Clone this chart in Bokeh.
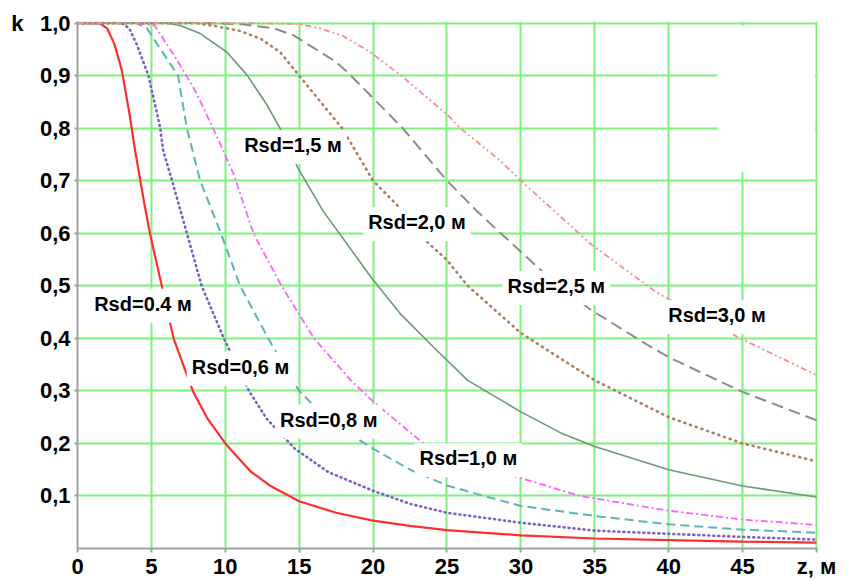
from bokeh.plotting import figure
from bokeh.models import FixedTicker, Label, BoxAnnotation, Range1d, LinearAxis
from bokeh.embed import file_html
from bokeh.resources import INLINE

# ---------------- data ----------------
z_r04 = [0, 1, 1.5, 2, 2.5, 3, 3.5, 3.9, 4.5, 4.9, 5.7, 6.5, 7.8, 8.8, 10, 11.7, 13, 15, 17.5, 20, 22.5, 25, 30, 35, 40, 45, 50]
k_r04 = [1, 1, 1.0, 0.99, 0.96, 0.91, 0.83, 0.757, 0.66, 0.6, 0.5, 0.4, 0.3, 0.247, 0.2, 0.147, 0.12, 0.09, 0.068, 0.053, 0.043, 0.035, 0.025, 0.019, 0.016, 0.013, 0.011]

z_r06 = [0, 2, 3, 3.5, 4, 4.8, 5.6, 5.8, 6.4, 7.4, 8.4, 9.9, 11.6, 12.8, 14.7, 17, 20, 22.5, 25, 30, 35, 40, 45, 50]
k_r06 = [1, 1, 1, 0.99, 0.96, 0.9, 0.8, 0.757, 0.7, 0.6, 0.5, 0.4, 0.3, 0.247, 0.19, 0.145, 0.11, 0.085, 0.068, 0.049, 0.034, 0.028, 0.022, 0.017]

z_r08 = [0, 4, 4.7, 5.4, 6.1, 6.8, 7.4, 8.3, 9.7, 11.0, 12.9, 15.0, 16.4, 18, 20, 22.5, 25, 27.5, 30, 35, 40, 45, 50]
k_r08 = [1, 1, 0.99, 0.96, 0.93, 0.9, 0.8, 0.7, 0.6, 0.5, 0.4, 0.3, 0.26, 0.225, 0.19, 0.15, 0.12, 0.1, 0.081, 0.062, 0.046, 0.036, 0.03]

z_r10 = [0, 4, 5.2, 6.5, 7.8, 8.5, 9.5, 10.6, 11.9, 13.8, 16.0, 18.5, 20, 23.4, 26.5, 30, 34, 40, 45, 50]
k_r10 = [1, 1, 0.996, 0.94, 0.88, 0.84, 0.78, 0.71, 0.6, 0.5, 0.4, 0.32, 0.28, 0.2, 0.16, 0.134, 0.1, 0.072, 0.055, 0.045]

z_r15 = [0, 6, 7, 8.3, 10.1, 11.5, 12.8, 13.7, 14.9, 16.6, 19.9, 21.9, 24.1, 26.4, 30, 32.7, 35, 40, 45, 50]
k_r15 = [1, 1, 0.995, 0.98, 0.945, 0.9, 0.845, 0.8, 0.725, 0.643, 0.515, 0.445, 0.383, 0.32, 0.26, 0.22, 0.194, 0.15, 0.119, 0.098]

z_r20 = [0, 8, 9.2, 11, 12.4, 13.7, 15, 17.9, 20, 22, 23.4, 25, 26.4, 30, 35, 40, 45, 50]
k_r20 = [1, 1, 0.995, 0.985, 0.97, 0.945, 0.9, 0.8, 0.7, 0.643, 0.59, 0.549, 0.5, 0.41, 0.32, 0.25, 0.2, 0.166]

z_r25 = [0, 9, 11, 13.3, 14.6, 17.5, 18.5, 22, 25, 27, 28.4, 31.5, 34.7, 38.3, 40, 45, 50]
k_r25 = [1, 1, 0.998, 0.99, 0.977, 0.926, 0.9, 0.8, 0.7, 0.643, 0.606, 0.526, 0.455, 0.392, 0.364, 0.298, 0.244]

z_r30 = [0, 12, 15, 16.4, 18, 19.8, 21.9, 25, 25.9, 28.6, 30, 34.7, 39.2, 44.7, 50]
k_r30 = [1, 1, 0.998, 0.99, 0.975, 0.945, 0.9, 0.826, 0.8, 0.738, 0.7, 0.58, 0.487, 0.402, 0.33]

series_names = ["Rsd=0.4 м", "Rsd=0,6 м", "Rsd=0,8 м", "Rsd=1,0 м",
                "Rsd=1,5 м", "Rsd=2,0 м", "Rsd=2,5 м", "Rsd=3,0 м"]

x_ticks = [0, 5, 10, 15, 20, 25, 30, 35, 40, 45, 50]
x_tick_labels = ["0", "5", "10", "15", "20", "25", "30", "35", "40", "45", "z, м"]
y_ticks = [0.1, 0.2, 0.3, 0.4, 0.5, 0.6, 0.7, 0.8, 0.9, 1.0]
y_tick_labels = ["0,1", "0,2", "0,3", "0,4", "0,5", "0,6", "0,7", "0,8", "0,9", "1,0"]
y_axis_title = "k"

# ---------------- styles ----------------
FONT = "Liberation Sans"
GRID = "#7ef07e"
AXIS = "#a0a0a0"
TICK_FONT = "22px"

styles = [
    dict(color="#ff2e2e", width=2.2, dash="solid", cap="butt"),
    dict(color="#7f5fc6", width=2.6, dash="1 4", cap="round"),
    dict(color="#5fb3b3", width=2.0, dash="9 5", cap="butt"),
    dict(color="#ff60ff", width=1.8, dash="7 3 2 3", cap="butt"),
    dict(color="#6c9a72", width=1.6, dash="solid", cap="butt"),
    dict(color="#b07e5c", width=2.6, dash="1 5", cap="round"),
    dict(color="#8c8c8c", width=2.0, dash="12 6", cap="butt"),
    dict(color="#ff8a8a", width=1.8, dash="6 3 2 3 2 3", cap="butt"),
]
# label centres (data coordinates)
label_pos = [(4.43, 0.462), (11.03, 0.342), (17.0, 0.2415), (26.45, 0.168),
             (14.58, 0.764), (22.97, 0.617), (32.4, 0.496), (43.27, 0.4406)]

all_z = [z_r04, z_r06, z_r08, z_r10, z_r15, z_r20, z_r25, z_r30]
all_k = [k_r04, k_r06, k_r08, k_r10, k_r15, k_r20, k_r25, k_r30]

p = figure(width=848, height=581, output_backend="svg", toolbar_location=None,
           x_range=Range1d(0, 50.07), y_range=Range1d(0, 1.003),
           min_border_left=77, min_border_right=31, min_border_top=21, min_border_bottom=30)
p.outline_line_color = None
p.background_fill_color = "white"
p.border_fill_color = "white"

# grid
p.xgrid.ticker = FixedTicker(ticks=x_ticks)
p.ygrid.ticker = FixedTicker(ticks=y_ticks)
for g in (p.xgrid, p.ygrid):
    g.grid_line_color = GRID
    g.grid_line_width = 2
    g.grid_line_alpha = 1.0

# axes
p.xaxis.ticker = FixedTicker(ticks=x_ticks)
p.yaxis.ticker = FixedTicker(ticks=y_ticks)
p.xaxis.major_label_overrides = {t: s for t, s in zip(x_ticks, x_tick_labels)}
p.yaxis.major_label_overrides = {t: s for t, s in zip(y_ticks, y_tick_labels)}
for ax in (p.xaxis, p.yaxis):
    ax.axis_line_color = AXIS
    ax.axis_line_width = 2
    ax.major_tick_line_color = AXIS
    ax.major_tick_line_width = 2
    ax.major_tick_in = 0
    ax.minor_tick_line_color = None
    ax.major_label_text_font = FONT
    ax.major_label_text_font_style = "bold"
    ax.major_label_text_font_size = TICK_FONT
    ax.major_label_text_color = "black"
p.xaxis.major_tick_out = 4
p.xaxis.major_label_standoff = 1
p.yaxis.major_tick_out = 3
p.yaxis.major_label_standoff = 4

# "k" written at the top of the value axis
k_axis = LinearAxis(ticker=FixedTicker(ticks=[1.0]), major_label_overrides={1.0: y_axis_title},
                    axis_line_color=None, major_tick_line_color=None, minor_tick_line_color=None,
                    major_tick_out=0, major_tick_in=0, major_label_standoff=13,
                    major_label_text_font=FONT, major_label_text_font_style="bold",
                    major_label_text_font_size=TICK_FONT, major_label_text_color="black")
p.add_layout(k_axis, "left")

# erased legend area (blank rectangle at the top right)
p.add_layout(BoxAnnotation(left=43.3, right=49.9, bottom=0.716, top=0.995,
                           fill_color="white", fill_alpha=1.0, line_alpha=0.0, level="underlay"))

for z, k, st in zip(all_z, all_k, styles):
    p.line(z, k, line_color=st["color"], line_width=st["width"],
           line_dash=st["dash"], line_cap=st["cap"])

for name, (lx, ly) in zip(series_names, label_pos):
    p.add_layout(Label(x=lx, y=ly, text=name, text_font=FONT, text_font_style="bold",
                       text_font_size="20px", text_color="black",
                       text_align="center", text_baseline="middle",
                       background_fill_color="white", background_fill_alpha=1.0,
                       padding=dict(left=5, right=5, top=4, bottom=8)))

open("out.html", "w").write(file_html(p, INLINE))
